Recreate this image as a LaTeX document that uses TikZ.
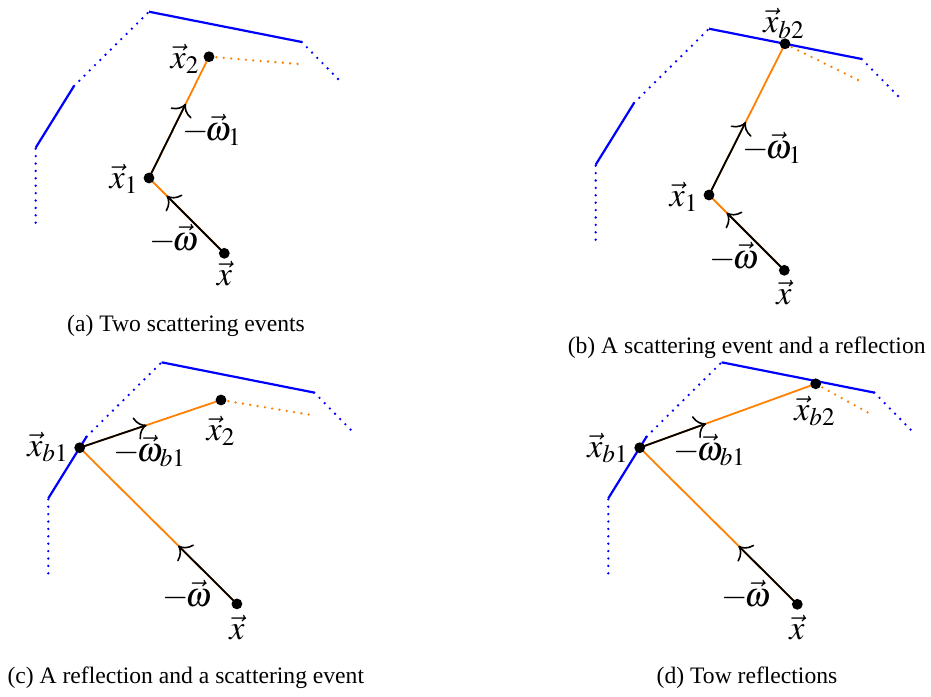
\documentclass[tikz,border=0pt]{standalone}
\usepackage{mathptmx}
\usepackage[no-math]{fontspec}
\setmainfont{Liberation Serif}
\usetikzlibrary{calc,arrows.meta}
\newcommand\mywalls{%
  \coordinate (W1) at (35.7,222.7);
  \coordinate (W2) at (35.7,147.7);
  \coordinate (W3) at (74,86);
  \coordinate (W4) at (149,11.7);
  \coordinate (W5) at (301.7,42);
  \coordinate (W6) at (338,79);
  \draw[walldot] (W1) -- (W2);
  \draw[wall] (W2) -- (W3);
  \draw[walldot] (W3) -- (W4);
  \draw[wall] (W4) -- (W5);
  \draw[walldot] (W5) -- (W6);
}
\newcommand\mw{\mathord{-}\mkern-2mu}
\begin{document}
\begin{tikzpicture}[x=0.5pt,y=-0.5pt,
  wall/.style={blue,line width=1.1pt},
  walldot/.style={blue,line width=1.3pt,dash pattern=on 0pt off 3.7pt,line cap=round},
  ray/.style={orange,line width=0.9pt},
  raydot/.style={orange,line width=1.3pt,dash pattern=on 0pt off 3.7pt,line cap=round},
  dir/.style={black,line width=0.9pt,-{Computer Modern Rightarrow[scale=1.55,line width=0.8pt]}},
  pt/.style={circle,fill=black,inner sep=0pt,minimum size=5.4pt},
  lab/.style={font=\fontsize{17}{20}\selectfont,inner sep=0pt},
  captext/.style={font=\fontsize{11.8}{14}\selectfont,anchor=base,inner sep=0pt}]
\useasboundingbox (0,0) rectangle (931,696);

% ---------------- (a)
\begin{scope}
  \mywalls
  \coordinate (ax) at (224.3,253.3);
  \coordinate (ax1) at (149,178);
  \coordinate (ax2) at (209,56.7);
  \coordinate (aD) at (301.7,64.3);
  \draw[ray] (ax) -- (ax1) -- (ax2);
  \draw[raydot] (ax2) -- (aD);
  \draw[dir] (ax) -- ($(ax)!0.765!(ax1)$);
  \draw[dir] (ax1) -- ($(ax1)!0.612!(ax2)$);
  \node[pt] (axp) at (ax) {};
  \node[pt] (ax1p) at (ax1) {};
  \node[pt] (ax2p) at (ax2) {};
  \node[lab] (alx) at (224.5,274) {$\vec{x}$};
  \node[lab] (alw) at (174,239) {$\mw\vec{\omega}$};
  \node[lab] (alx1) at (124,179) {$\vec{x}_1$};
  \node[lab] (alx2) at (185,59) {$\vec{x}_2$};
  \node[lab] (alw1) at (212,130) {$\mw\vec{\omega}_1$};
\end{scope}
\node[captext] (capa) at (186,331.7) {(a) Two scattering events};

% ---------------- (b)
\begin{scope}[shift={(560,17)}]
  \mywalls
  \coordinate (bx) at (224.3,253.3);
  \coordinate (bx1) at (149,178);
  \coordinate (bxb2) at ($(W4)!0.498!(W5)$);
  \coordinate (bD) at (300,64);
  \draw[ray] (bx) -- (bx1) -- (bxb2);
  \draw[raydot] (bxb2) -- (bD);
  \draw[dir] (bx) -- ($(bx)!0.765!(bx1)$);
  \draw[dir] (bx1) -- ($(bx1)!0.483!(bxb2)$);
  \node[pt] (bxp) at (bx) {};
  \node[pt] (bx1p) at (bx1) {};
  \node[pt] (bxb2p) at (bxb2) {};
  \node[lab] (blx) at (224,276) {$\vec{x}$};
  \node[lab] (blw) at (174,240) {$\mw\vec{\omega}$};
  \node[lab] (blx1) at (124,180) {$\vec{x}_1$};
  \node[lab] (blxb2) at (224,6.5) {$\vec{x}_{b2}$};
  \node[lab] (blw1) at (212.5,131) {$\mw\vec{\omega}_1$};
\end{scope}
\node[captext] (capb) at (746.7,353.3) {(b) A scattering event and a reflection};

% ---------------- (c)
\begin{scope}[shift={(12.6,350.6)}]
  \mywalls
  \coordinate (cx) at (224.3,253.3);
  \coordinate (cxb1) at ($(W2)!0.82!(W3)$);
  \coordinate (cx2) at (208.4,49.4);
  \coordinate (cD) at (299.1,64.4);
  \draw[ray] (cx) -- (cxb1) -- (cx2);
  \draw[raydot] (cx2) -- (cD);
  \draw[dir] (cx) -- ($(cx)!0.373!(cxb1)$);
  \draw[dir] (cxb1) -- ($(cxb1)!0.473!(cx2)$);
  \node[pt] (cxp) at (cx) {};
  \node[pt] (cxb1p) at (cxb1) {};
  \node[pt] (cx2p) at (cx2) {};
  \node[lab] (clx) at (224.4,277.4) {$\vec{x}$};
  \node[lab] (clw) at (174.4,244.4) {$\mw\vec{\omega}$};
  \node[lab] (clxb1) at (35.4,96.4) {$\vec{x}_{b1}$};
  \node[lab] (clwb1) at (137.4,100.4) {$\mw\vec{\omega}_{b1}$};
  \node[lab] (clx2) at (208.4,80.4) {$\vec{x}_2$};
\end{scope}
\node[captext] (capc) at (185.8,683.3) {(c) A reflection and a scattering event};

% ---------------- (d)
\begin{scope}[shift={(572.6,350.6)}]
  \mywalls
  \coordinate (dx) at (224.7,253.7);
  \coordinate (dxb1) at ($(W2)!0.82!(W3)$);
  \coordinate (dxb2) at (243.1,33.2);
  \coordinate (dD) at (296.7,62.7);
  \draw[ray] (dx) -- (dxb1) -- (dxb2);
  \draw[raydot] (dxb2) -- (dD);
  \draw[dir] (dx) -- ($(dx)!0.373!(dxb1)$);
  \draw[dir] (dxb1) -- ($(dxb1)!0.377!(dxb2)$);
  \node[pt] (dxp) at (dx) {};
  \node[pt] (dxb1p) at (dxb1) {};
  \node[pt] (dxb2p) at (dxb2) {};
  \node[lab] (dlx) at (224.4,277.4) {$\vec{x}$};
  \node[lab] (dlw) at (173.4,244.4) {$\mw\vec{\omega}$};
  \node[lab] (dlxb1) at (35.4,97.4) {$\vec{x}_{b1}$};
  \node[lab] (dlwb1) at (137.4,99.4) {$\mw\vec{\omega}_{b1}$};
  \node[lab] (dlxb2) at (242.4,60.4) {$\vec{x}_{b2}$};
\end{scope}
\node[captext] (capd) at (747,683.3) {(d) Tow reflections};
\end{tikzpicture}
\end{document}
